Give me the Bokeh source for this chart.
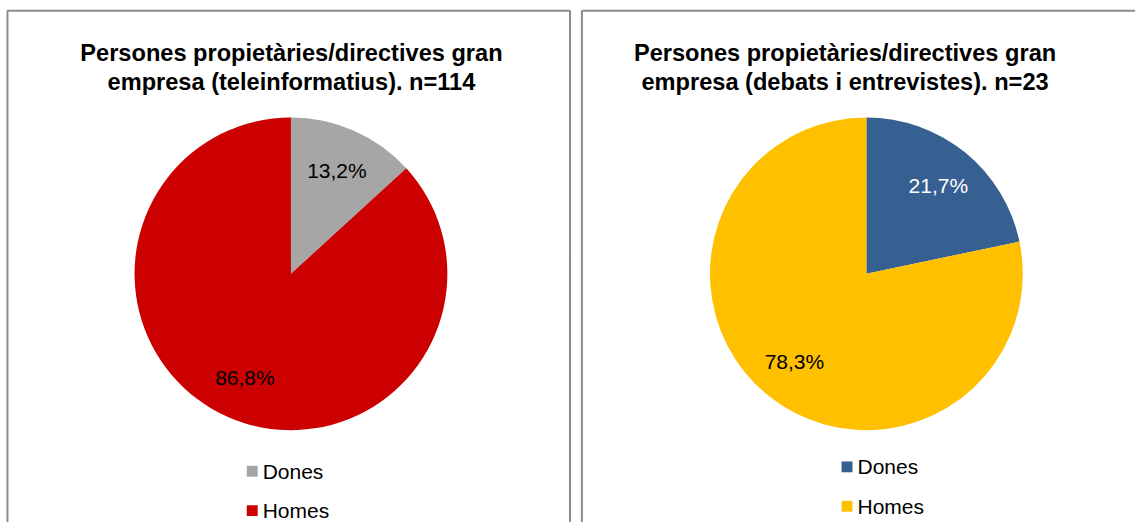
import math
from bokeh.plotting import figure
from bokeh.models import Range1d
from bokeh.embed import file_html
from bokeh.resources import INLINE
from bokeh.core.properties import value

# ---- data ----
categories = ["Dones", "Homes"]
left_title = ["Persones propietàries/directives gran", "empresa (teleinformatius). n=114"]
right_title = ["Persones propietàries/directives gran", "empresa (debats i entrevistes). n=23"]
left_values = [13.2, 86.8]
right_values = [21.7, 78.3]
left_labels = ["13,2%", "86,8%"]
right_labels = ["21,7%", "78,3%"]

# ---- styles ----
left_colors = ["#A6A6A6", "#CC0000"]
right_colors = ["#376092", "#FFC000"]
left_label_colors = ["#000000", "#000000"]
right_label_colors = ["#FFFFFF", "#000000"]
FONT = value("Liberation Sans")

W, H = 1135, 522
REF_W, REF_H = 1143, 530


def py(y):
    """convert reference pixel y (down) to data y (up)"""
    return REF_H - y


p = figure(width=W, height=H, x_range=Range1d(0, REF_W), y_range=Range1d(0, REF_H),
           output_backend="svg", toolbar_location=None, min_border=0,
           x_axis_location=None, y_axis_location=None, outline_line_color=None,
           background_fill_color="white", border_fill_color="white")
p.xgrid.visible = False
p.ygrid.visible = False

# panel borders
p.quad(left=[7, 585.5], right=[573.5, 1170], top=[py(10.5), py(10.5)], bottom=[-30, -30],
       fill_color=None, line_color="#8C8C8C", line_width=2)


def pie(cx, cy, r, vals, colors, labels, label_colors, title, title_x, leg_x, leg_y):
    total = sum(vals)
    start = math.pi / 2
    for v, c, lab, lc in zip(vals, colors, labels, label_colors):
        sweep = 2 * math.pi * v / total
        end = start - sweep
        p.wedge(x=cx, y=py(cy), radius=r, start_angle=end, end_angle=start,
                direction="anticlock", fill_color=c, line_color=None)
        mid = start - sweep / 2
        fr = 0.73
        p.text(x=[cx + fr * r * math.cos(mid)], y=[py(cy) + fr * r * math.sin(mid)], text=[lab],
               text_font=FONT, text_font_size="21px", text_color=lc,
               text_align="center", text_baseline="middle")
        start = end
    # title
    p.text(x=[title_x, title_x], y=[py(53), py(83)], text=title,
           text_font=FONT, text_font_size="23.6px", text_font_style="bold",
           text_color="#000000", text_align="center", text_baseline="middle")
    # legend
    for i, (cat, c) in enumerate(zip(categories, colors)):
        yy = leg_y + i * 40
        p.rect(x=[leg_x + 5.5], y=[py(yy)], width=11, height=11,
               fill_color=c, line_color=None)
        p.text(x=[leg_x + 16], y=[py(yy)], text=[cat], text_font=FONT,
               text_font_size="21px", text_color="#000000",
               text_align="left", text_baseline="middle")


pie(292.5, 277.5, 157.5, left_values, left_colors, left_labels, left_label_colors,
    left_title, 293, 248, 478)
pie(872, 277.5, 157.5, right_values, right_colors, right_labels, right_label_colors,
    right_title, 850.5, 847, 473.5)

open("out.html", "w").write(file_html(p, INLINE))
